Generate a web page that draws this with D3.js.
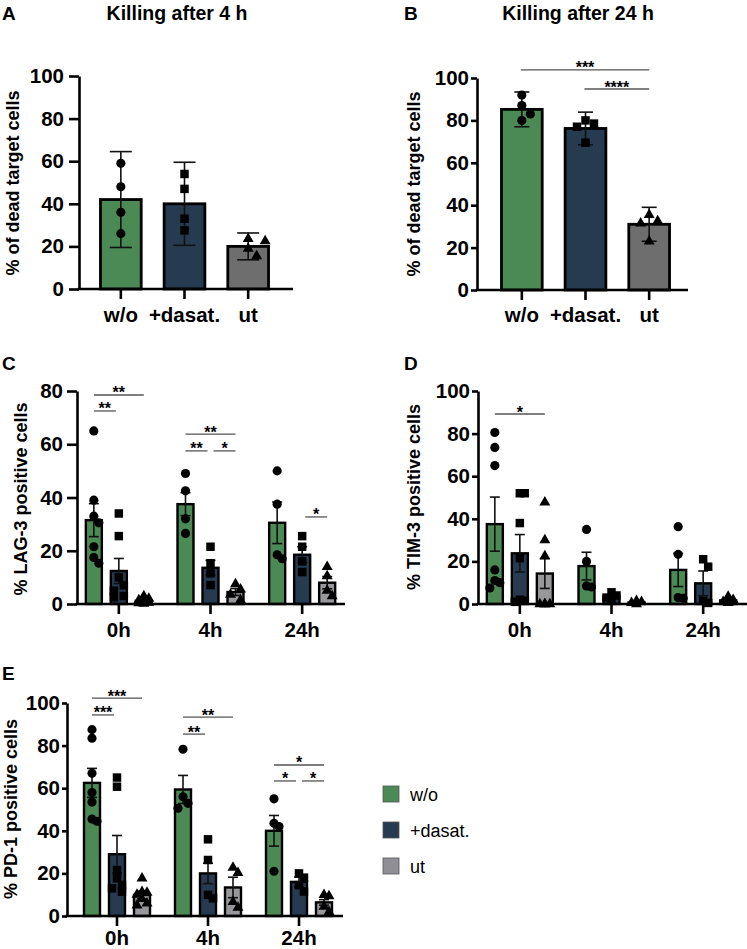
<!DOCTYPE html>
<html><head><meta charset="utf-8">
<script src="https://cdn.jsdelivr.net/npm/d3@7"></script>
<style>body{margin:0;background:#fff} text{font-family:"Liberation Sans",Arial,sans-serif}</style>
</head><body><svg id="c" width="747" height="949"></svg>
<script>
// ---------- data ----------
const killCats = ["w/o", "+dasat.", "ut"];
const kill4Mean = [42, 40, 20];
const kill4Err = [22.5, 19.5, 6.3];
const kill4Pts = [[59, 48, 36, 26], [54, 47, 33, 27.5], [23.5, 22.5, 19, 15.5]];
const kill24Mean = [85.2, 76.2, 31];
const kill24Err = [8.2, 7.7, 8];
const kill24Pts = [[92, 87, 83, 80], [80, 78.5, 77, 69.5], [35.5, 32.5, 31.5, 23]];
// [group, from series, to series, y value, label]
const kill24Sig = [[0, 0, 2, 103.8, "***"], [0, 1, 2, 94.8, "****"]];

const timeCats = ["0h", "4h", "24h"];
const seriesNames = ["w/o", "+dasat.", "ut"];

// [series][time]
const lag3Mean = [[31.5, 37.5, 30.5], [12.4, 13.6, 18.5], [1.2, 4.5, 8]];
const lag3Err = [[6.2, 4.3, 7.8], [4.7, 2.8, 3], [0.4, 1.3, 2.3]];
const lag3Pts = [
  [[65, 39, 33, 30.5, 21.5, 17.5, 15.3], [49, 42.5, 32, 26.5], [50, 37.5, 18.5, 17]],
  [[34, 25.5, 10, 7, 5, 3, 2.5], [21.5, 15.3, 11.5, 7.1], [25.5, 21.5, 16, 12]],
  [[3, 2, 1.5, 1, 0.5, 0.3, 0.2], [7.5, 5.5, 3.5, 1.5], [14, 10.5, 5, 3]]
];
// [time index, from series, to series, y value, label]
const lag3Sig = [[0, 0, 2, 78.5, "**"], [0, 0, 1, 72.5, "**"], [1, 0, 2, 63.8, "**"], [1, 0, 1, 57.5, "**"], [1, 1, 2, 57.5, "*"], [2, 1, 2, 32.7, "*"]];

const tim3Mean = [[37.5, 17.8, 16], [23.8, 3.5, 9.7], [14.3, 0.7, 1.7]];
const tim3Err = [[12.7, 6.5, 7.8], [8.8, 0.9, 5.8], [7, 0.3, 0.7]];
const tim3Pts = [
  [[80.5, 73.5, 65, 16, 11, 10, 7.5], [35, 20, 8.5, 8], [36.3, 23.3, 3, 2.7]],
  [[52, 52, 38, 21.5, 2, 1.5, 1], [5.5, 4, 3, 1.5], [21, 17.5, 1.5, 0.5]],
  [[47.7, 30, 22.5, 0, 0, 0, 0], [1.5, 1, 0.5, 0], [3.5, 2, 1, 0.5]]
];
const tim3Sig = [[0, 0, 2, 89.2, "*"]];

const pd1Mean = [[62.5, 59.4, 40], [29, 20, 16], [9.9, 13.4, 6.4]];
const pd1Err = [[6.8, 6.6, 7.2], [8.8, 4.8, 2.3], [1.8, 4.8, 1.3]];
const pd1Pts = [
  [[87.5, 83.5, 67, 58, 53.5, 45.5, 44.5], [78.3, 56, 52.9, 50.6], [55, 43.5, 42, 21]],
  [[65, 60.7, 21.6, 17.7, 14.6, 13, 11.4], [36, 26.3, 9.9, 8.3], [20, 18, 14.5, 11.5]],
  [[17.7, 11.4, 11, 10, 8, 6, 5], [22.7, 20.3, 6.7, 4], [9.9, 9.4, 4.4, 2]]
];
const pd1Sig = [[0, 0, 2, 102.3, "***"], [0, 0, 1, 94.4, "***"], [1, 0, 2, 93.4, "**"], [1, 0, 1, 85.4, "**"], [2, 0, 2, 70.9, "*"], [2, 0, 1, 63.4, "*"], [2, 1, 2, 63.4, "*"]];

// ---------- styles ----------
const colAB = ["#4b8a55", "#263b4f", "#6e6e6e"];
const colCE = ["#4b8a55", "#263b4f", "#98989c"];
const shapes = [d3.symbolCircle, d3.symbolSquare, d3.symbolTriangle];
const shapeSize = [66, 72, 52];
const FONT = "Liberation Sans, Arial, sans-serif";

const svg = d3.select("#c");

function beeswarm(vals, y, cx, sw) {
  const placed = [];
  const sorted = vals.map((v, i) => ({v, i})).sort((a, b) => b.v - a.v);
  const cands = [0];
  for (let k = 1; k <= sw.max; k++) cands.push(k * sw.step, -k * sw.step);
  sorted.forEach(p => {
    const py = y(p.v);
    let best = null, bestD = -1;
    for (const c of cands) {
      const tx = cx + c;
      const md = placed.length ? d3.min(placed, q => Math.hypot(q.x - tx, q.y - py)) : Infinity;
      if (md >= sw.dia) { best = tx; break; }
      if (md > bestD + 0.5) { bestD = md; best = tx; }
    }
    placed.push({x: best, y: py, v: p.v});
  });
  return placed;
}

function drawPanel(cfg) {
  const g = svg.append("g");
  const y = d3.scaleLinear().domain([0, cfg.max]).range([cfg.y0, cfg.y1]);
  cfg.bars.forEach(b => {
    g.append("rect").attr("x", b.cx - b.w / 2).attr("y", y(b.mean)).attr("width", b.w)
      .attr("height", y(0) - y(b.mean)).attr("fill", b.color).attr("stroke", "#000").attr("stroke-width", cfg.barStroke);
  });
  cfg.bars.forEach(b => {
    const eg = g.append("g").attr("stroke", "#111").attr("stroke-width", 1.6);
    eg.append("line").attr("x1", b.cx).attr("x2", b.cx).attr("y1", y(b.mean + b.err)).attr("y2", y(Math.max(0, b.mean - b.err)));
    eg.append("line").attr("x1", b.cx - cfg.cap / 2).attr("x2", b.cx + cfg.cap / 2).attr("y1", y(b.mean + b.err)).attr("y2", y(b.mean + b.err));
    if (b.mean - b.err > 0)
      eg.append("line").attr("x1", b.cx - cfg.cap / 2).attr("x2", b.cx + cfg.cap / 2).attr("y1", y(b.mean - b.err)).attr("y2", y(b.mean - b.err));
  });
  cfg.bars.forEach(b => {
    const pts = beeswarm(b.pts, y, b.cx, cfg.swarm);
    g.selectAll(null).data(pts).join("path")
      .attr("transform", d => `translate(${d.x},${d.y})`)
      .attr("d", d3.symbol().type(shapes[b.s]).size(shapeSize[b.s]))
      .attr("fill", "#000");
  });
  const ya = g.append("g").attr("transform", `translate(${cfg.ax},0)`)
    .call(d3.axisLeft(y).ticks(cfg.max / 20).tickSize(cfg.tickLen).tickSizeOuter(0).tickPadding(cfg.tickPad));
  ya.selectAll("path,line").attr("stroke", "#000").attr("stroke-width", 2.6);
  ya.selectAll("text").attr("font-size", 20.5).attr("font-weight", "bold").attr("fill", "#000").attr("font-family", FONT);
  g.append("line").attr("x1", cfg.ax - 1.3).attr("x2", cfg.xEnd).attr("y1", y(0)).attr("y2", y(0))
    .attr("stroke", "#000").attr("stroke-width", 2.6);
  const xa = g.append("g").attr("transform", `translate(0,${y(0)})`)
    .call(d3.axisBottom(cfg.xScale).tickSize(10).tickSizeOuter(0).tickFormat(() => ""));
  xa.select(".domain").remove();
  xa.selectAll("line").attr("stroke", "#000").attr("stroke-width", 2.6);
  cfg.xScale.domain().forEach(c => {
    g.append("text").attr("x", cfg.xScale(c) + cfg.xScale.bandwidth() / 2).attr("y", cfg.xLabY)
      .attr("text-anchor", "middle").attr("font-size", 20.5).attr("font-weight", "bold").text(c);
  });
  g.append("text").attr("transform", `translate(${cfg.ytX},${cfg.ytY}) rotate(-90)`)
    .attr("text-anchor", "middle").attr("font-size", 18).attr("font-weight", "bold").text(cfg.yTitle);
  g.append("text").attr("x", cfg.letX).attr("y", cfg.letY).attr("font-size", 19).attr("font-weight", "bold").text(cfg.letter);
  if (cfg.title) g.append("text").attr("x", cfg.titleX).attr("y", cfg.letY).attr("text-anchor", "middle")
    .attr("font-size", 19.5).attr("font-weight", "bold").text(cfg.title);
  (cfg.sig || []).forEach(s => {
    const [x1, x2] = cfg.sigX(s);
    const yy = y(s[3]);
    g.append("line").attr("x1", x1).attr("x2", x2).attr("y1", yy).attr("y2", yy).attr("stroke", "#555").attr("stroke-width", 1.3);
    g.append("text").attr("x", (x1 + x2) / 2).attr("y", yy + 3.5).attr("text-anchor", "middle")
      .attr("font-size", 16).attr("font-weight", "bold").text(s[4]);
  });
}

function killPanel(opt) {
  const xs = d3.scaleBand().domain(killCats).range(opt.xr).paddingInner(0.36).paddingOuter(0.18);
  const cxOf = i => xs(killCats[i]) + xs.bandwidth() / 2;
  const bars = killCats.map((c, i) => ({cx: cxOf(i), w: xs.bandwidth(), mean: opt.mean[i], err: opt.err[i], pts: opt.pts[i], color: colAB[i], s: i}));
  drawPanel(Object.assign({}, opt, {bars, xScale: xs, max: 100, barStroke: 2.8,
    swarm: {dia: 9, step: 8.5, max: 2}, cap: opt.cap,
    sigX: s => [cxOf(s[1]) - 1, cxOf(s[2])]}));
}

function timePanel(opt) {
  const xg = d3.scaleBand().domain(timeCats).range(opt.xr);
  const xs = d3.scaleBand().domain(seriesNames).range([-37.5, 37.5]).paddingInner(0.36).paddingOuter(0.18);
  const cxOf = (t, si) => xg(timeCats[t]) + xg.bandwidth() / 2 + xs(seriesNames[si]) + xs.bandwidth() / 2;
  const bars = [];
  seriesNames.forEach((sn, si) => timeCats.forEach((tc, t) => {
    bars.push({cx: cxOf(t, si), w: xs.bandwidth(), mean: opt.mean[si][t], err: opt.err[si][t], pts: opt.pts[si][t], color: colCE[si], s: si});
  }));
  drawPanel(Object.assign({}, opt, {bars, xScale: xg, barStroke: 2.4, swarm: {dia: 8, step: 5, max: 1}, cap: 10,
    sigX: s => [cxOf(s[0], s[1]) + (s[1] === 1 ? 3 : 0), cxOf(s[0], s[2]) - (s[2] === 1 ? 3 : 0)]}));
}

killPanel({mean: kill4Mean, err: kill4Err, pts: kill4Pts, xr: [89, 280], y0: 289, y1: 76, ax: 79, xEnd: 293,
  tickLen: 10, tickPad: 5, xLabY: 322, ytX: 19, ytY: 183, yTitle: "% of dead target cells",
  letter: "A", letX: 2, letY: 20, title: "Killing after 4 h", titleX: 177, cap: 22});
killPanel({mean: kill24Mean, err: kill24Err, pts: kill24Pts, sig: kill24Sig, xr: [490, 681], y0: 290, y1: 78, ax: 477, xEnd: 688,
  tickLen: 6, tickPad: 2, xLabY: 322, ytX: 420, ytY: 184, yTitle: "% of dead target cells",
  letter: "B", letX: 404, letY: 20, title: "Killing after 24 h", titleX: 578, cap: 15});
timePanel({mean: lag3Mean, err: lag3Err, pts: lag3Pts, sig: lag3Sig, max: 80, xr: [73, 348], y0: 604, y1: 391, ax: 77, xEnd: 345,
  tickLen: 10, tickPad: 4, xLabY: 637, ytX: 27, ytY: 499, yTitle: "% LAG-3 positive cells", letter: "C", letX: 2, letY: 370});
timePanel({mean: tim3Mean, err: tim3Err, pts: tim3Pts, sig: tim3Sig, max: 100, xr: [474, 749], y0: 604, y1: 391, ax: 478, xEnd: 747,
  tickLen: 6, tickPad: 2, xLabY: 637, ytX: 420, ytY: 497, yTitle: "% TIM-3 positive cells", letter: "D", letX: 404, letY: 370});
timePanel({mean: pd1Mean, err: pd1Err, pts: pd1Pts, sig: pd1Sig, max: 100, xr: [71.5, 344.5], y0: 916, y1: 703, ax: 67, xEnd: 343,
  tickLen: 5, tickPad: 2, xLabY: 945, ytX: 17, ytY: 809, yTitle: "% PD-1 positive cells", letter: "E", letX: 2, letY: 680});

// legend
const legendCols = ["#4b8a55", "#263b4f", "#8f8f95"];
const leg = svg.append("g");
seriesNames.forEach((n, i) => {
  const cy = 794 + i * 36;
  leg.append("rect").attr("x", 383).attr("y", cy - 8).attr("width", 16).attr("height", 16)
    .attr("fill", legendCols[i]).attr("stroke", "#555").attr("stroke-width", 0.8);
  leg.append("text").attr("x", 410).attr("y", cy + 6.5).attr("font-size", 18).text(n);
});
</script></body></html>
